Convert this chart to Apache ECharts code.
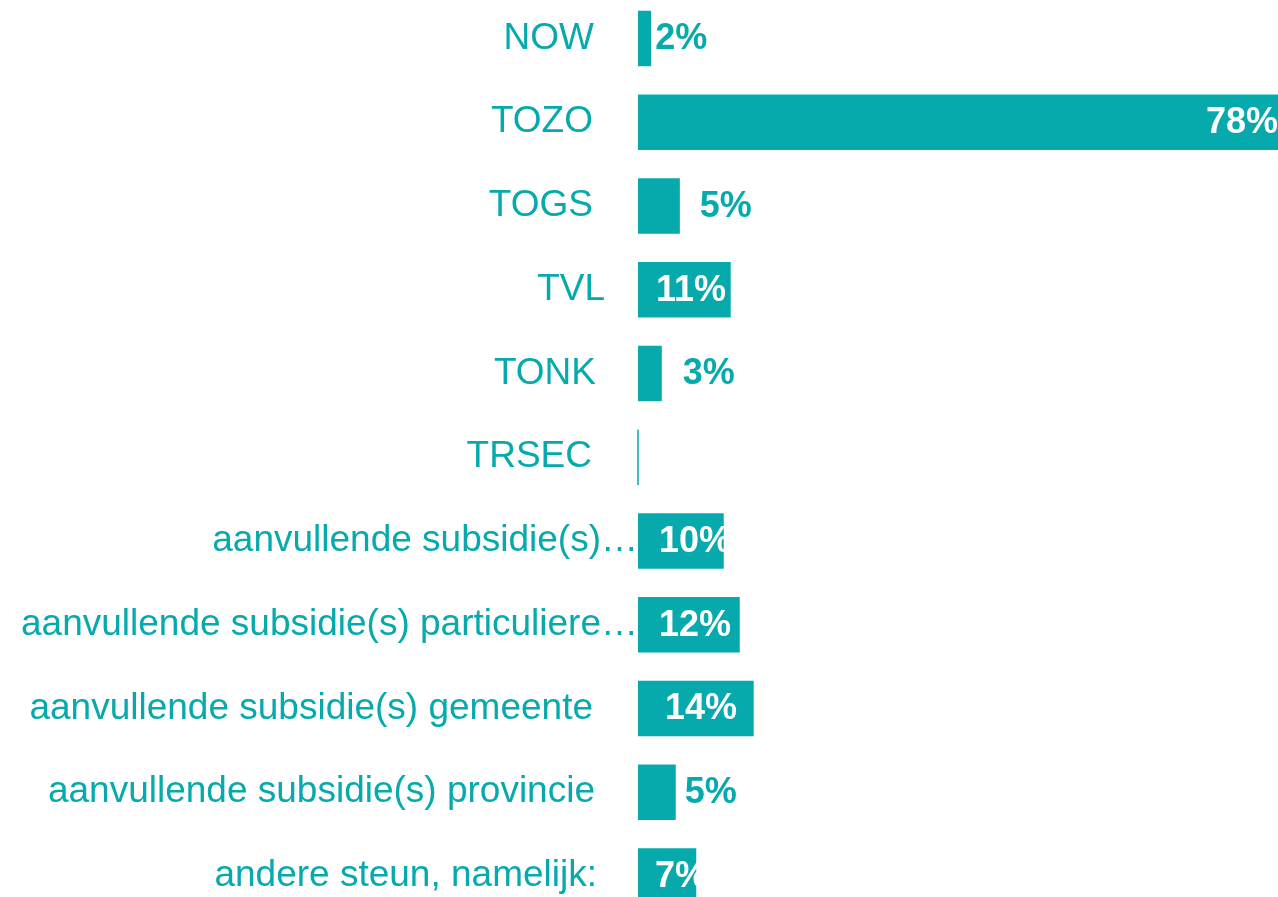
<!DOCTYPE html>
<html>
<head>
<meta charset="utf-8">
<script src="https://cdn.jsdelivr.net/npm/echarts@6/dist/echarts.min.js"></script>
<style>
  html, body { margin: 0; padding: 0; background: #fff; overflow: hidden; }
  #chart { width: 1278px; height: 940px; position: relative; top: -10px; }
</style>
</head>
<body>
<div id="chart"></div>
<script>
// data (percent)
const categories = [
  "NOW",
  "TOZO",
  "TOGS",
  "TVL",
  "TONK",
  "TRSEC",
  "aanvullende subsidie(s)…",
  "aanvullende subsidie(s) particuliere…",
  "aanvullende subsidie(s) gemeente",
  "aanvullende subsidie(s) provincie",
  "andere steun, namelijk:"
];
const values = [1.6, 78, 5.1, 11.3, 2.9, 0, 10.45, 12.4, 14.1, 4.6, 7.1];

// label placement per bar (Excel-ish layout)
const labelPlace = ["right", "insideRight", "right", "insideLeft", "right", "none",
  "insideLeft", "insideLeft", "insideLeft", "right", "insideLeft"];
const labelGap = [4, 0, 20, 18, 21, 0, 21, 21, 27, 9, 17];
const catGap = [44, 45, 45, 33, 42, 46, 0, 0, 45, 43, 41];

const teal = "#06A9AC";
const font = "'Liberation Sans', Arial, sans-serif";

const myChart = echarts.init(document.getElementById("chart"));

const catData = categories.map((c, i) => ({
  value: c,
  textStyle: { padding: [3, catGap[i], 0, 0] }
}));

const barData = values.map((v, i) => {
  const inside = labelPlace[i].indexOf("inside") === 0;
  const item = {
    value: v,
    label: {
      show: labelPlace[i] !== "none",
      position: labelPlace[i] === "none" ? "right" : labelPlace[i],
      distance: labelGap[i],
      color: inside ? "#fff" : teal
    }
  };
  if (v === 0) {
    item.itemStyle = { borderColor: teal, borderWidth: 1.5 };
  }
  return item;
});

const option = {
  animation: false,
  grid: {
    left: 638,
    right: 0,
    top: 6.6,
    height: 921.25
  },
  xAxis: {
    type: "value",
    min: 0,
    max: 78,
    show: false
  },
  yAxis: {
    type: "category",
    inverse: true,
    data: catData,
    axisLine: { show: false },
    axisTick: { show: false },
    splitLine: { show: false },
    axisLabel: {
      margin: 0,
      color: teal,
      fontSize: 37,
      fontFamily: font,
      align: "right"
    }
  },
  series: [
    {
      type: "bar",
      data: barData,
      barWidth: 55.5,
      itemStyle: { color: teal },
      label: {
        fontSize: 36,
        fontWeight: "bold",
        fontFamily: font,
        offset: [0, 1],
        formatter: (p) => Math.round(p.value) + "%"
      }
    }
  ]
};

myChart.setOption(option);
</script>
</body>
</html>
